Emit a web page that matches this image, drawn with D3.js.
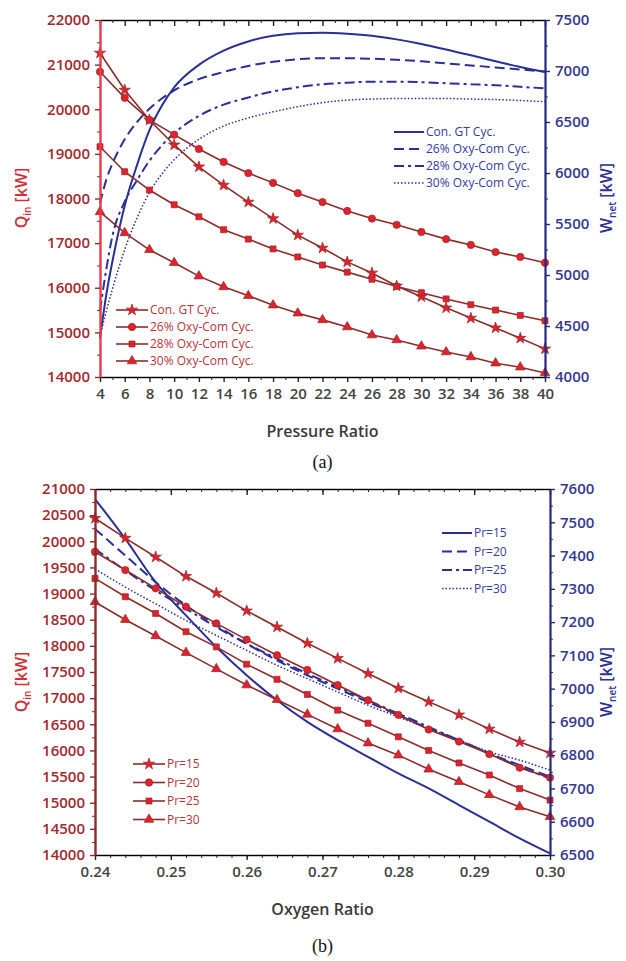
<!DOCTYPE html>
<html>
<head>
<meta charset="utf-8">
<script src="https://cdn.jsdelivr.net/npm/d3@7/dist/d3.min.js"></script>
<style>
  body { margin: 0; background: #fff; }
  svg text { font-family: "Open Sans", "DejaVu Sans", sans-serif; }
</style>
</head>
<body>
<svg id="chart" width="626" height="961"></svg>
<script>
// ---- panel (a): pressure ratio ----
var prRatio = [4, 6, 8, 10, 12, 14, 16, 18, 20, 22, 24, 26, 28, 30, 32, 34, 36, 38, 40];
var qinConGT = [21260, 20430, 19760, 19200, 18710, 18300, 17920, 17550, 17180, 16890, 16580, 16330, 16040, 15800, 15550, 15320, 15100, 14870, 14630];
var qinOxy26 = [20840, 20255, 19760, 19430, 19110, 18820, 18570, 18350, 18120, 17920, 17720, 17550, 17410, 17250, 17090, 16960, 16800, 16690, 16560];
var qinOxy28 = [19160, 18600, 18190, 17860, 17590, 17300, 17090, 16870, 16690, 16510, 16350, 16190, 16030, 15890, 15750, 15620, 15500, 15380, 15260];
var qinOxy30 = [17700, 17230, 16850, 16560, 16260, 16020, 15820, 15610, 15430, 15280, 15120, 14940, 14830, 14690, 14560, 14450, 14310, 14220, 14090];

var prFine = [4, 4.5, 5, 6, 7, 8, 9, 10, 12, 14, 16, 18, 20, 22, 24, 26, 28, 30, 32, 34, 36, 38, 40];
var wnetConGT = [4380, 4800, 5130, 5680, 6080, 6420, 6660, 6840, 7060, 7200, 7290, 7345, 7370, 7375, 7365, 7345, 7310, 7265, 7210, 7155, 7095, 7040, 6990];
var wnetOxy26 = [5700, 5930, 6090, 6330, 6500, 6630, 6730, 6810, 6920, 6990, 7050, 7090, 7115, 7125, 7125, 7120, 7110, 7095, 7075, 7055, 7035, 7015, 6995];
var wnetOxy28 = [4650, 5050, 5380, 5720, 5930, 6120, 6270, 6390, 6560, 6670, 6740, 6800, 6840, 6870, 6885, 6895, 6895, 6890, 6880, 6870, 6860, 6845, 6830];
var wnetOxy30 = [4400, 4640, 4860, 5250, 5560, 5810, 5990, 6130, 6330, 6460, 6540, 6600, 6650, 6690, 6715, 6725, 6730, 6730, 6730, 6725, 6720, 6710, 6700];
var legendA = ["Con. GT Cyc.", "26% Oxy-Com Cyc.", "28% Oxy-Com Cyc.", "30% Oxy-Com Cyc."];

// ---- panel (b): oxygen ratio ----
var oxyRatio = [0.240, 0.244, 0.248, 0.252, 0.256, 0.260, 0.264, 0.268, 0.272, 0.276, 0.280, 0.284, 0.288, 0.292, 0.296, 0.300];
var qinPr15 = [20440, 20060, 19700, 19330, 19010, 18670, 18360, 18050, 17760, 17470, 17190, 16930, 16680, 16410, 16160, 15950];
var qinPr20 = [19800, 19450, 19100, 18750, 18430, 18120, 17820, 17540, 17250, 16960, 16680, 16400, 16170, 15930, 15670, 15480];
var qinPr25 = [19290, 18940, 18620, 18270, 17980, 17650, 17360, 17070, 16770, 16520, 16260, 16000, 15760, 15530, 15270, 15050];
var qinPr30 = [18840, 18500, 18190, 17870, 17560, 17250, 16970, 16690, 16410, 16140, 15910, 15640, 15400, 15150, 14920, 14730];
var wnetPr15 = [7570, 7450, 7320, 7220, 7125, 7040, 6965, 6900, 6845, 6795, 6745, 6700, 6650, 6600, 6550, 6505];
var wnetPr20 = [7480, 7400, 7320, 7250, 7190, 7135, 7085, 7040, 7000, 6960, 6920, 6880, 6845, 6805, 6770, 6735];
var wnetPr25 = [7420, 7355, 7295, 7240, 7185, 7135, 7090, 7045, 7005, 6965, 6925, 6885, 6845, 6805, 6765, 6730];
var wnetPr30 = [7360, 7305, 7255, 7205, 7160, 7115, 7070, 7030, 6990, 6950, 6915, 6880, 6845, 6810, 6785, 6755];
var legendB = ["Pr=15", "Pr=20", "Pr=25", "Pr=30"];

var redLine = "#8c2b2b", redFill = "#e3202b", redText = "#b8323a";
var blue = "#2a2f98", blueText = "#353a9c";
var symbols = [d3.symbolStar, d3.symbolCircle, d3.symbolSquare, d3.symbolTriangle];
var symSizes = [40, 42, 36, 40];
var dashes = [null, "10,5", "10,4,3,4", "1.5,2"];
var widths = [2, 2, 2, 1.5];

var svg = d3.select("#chart");

function drawPanel(p) {
  var g = svg.append("g");
  var x = d3.scaleLinear().domain(p.xDomain).range([p.left, p.right]);
  var yL = d3.scaleLinear().domain(p.yLDomain).range([p.bottom, p.top]);
  var yR = d3.scaleLinear().domain(p.yRDomain).range([p.bottom, p.top]);

  // blue W_net curves
  p.wnet.forEach(function(series, i) {
    g.append("path")
      .datum(series)
      .attr("fill", "none")
      .attr("stroke", blue)
      .attr("stroke-width", widths[i])
      .attr("stroke-dasharray", dashes[i])
      .attr("d", d3.line().curve(d3.curveMonotoneX)
        .x(function(d, j) { return x(p.wx[j]); })
        .y(function(d) { return yR(d); }));
  });

  // red Q_in lines with markers
  p.qin.forEach(function(series, i) {
    g.append("path")
      .datum(series)
      .attr("fill", "none")
      .attr("stroke", redLine)
      .attr("stroke-width", 1.6)
      .attr("d", d3.line().x(function(d, j) { return x(p.qx[j]); }).y(function(d) { return yL(d); }));
    g.selectAll(null)
      .data(series)
      .enter().append("path")
      .attr("transform", function(d, j) { return "translate(" + x(p.qx[j]) + "," + yL(d) + ")"; })
      .attr("d", d3.symbol().type(symbols[i]).size(symSizes[i]))
      .attr("fill", redFill)
      .attr("stroke", redLine)
      .attr("stroke-width", 0.7);
  });

  // axes
  var bottom = g.append("g").attr("transform", "translate(0," + p.bottom + ")")
    .call(d3.axisBottom(x).tickValues(p.xTicks).tickSize(5).tickSizeOuter(0).tickPadding(6).tickFormat(p.xFmt));
  g.append("g").attr("transform", "translate(0," + p.bottom + ")")
    .call(d3.axisBottom(x).tickValues(p.xMinor).tickSize(3).tickSizeOuter(0).tickFormat(""));
  var top = g.append("g").attr("transform", "translate(0," + p.top + ")")
    .call(d3.axisBottom(x).tickValues(p.xTicks).tickSize(6).tickSizeOuter(0).tickFormat(""));
  g.append("g").attr("transform", "translate(0," + p.top + ")")
    .call(d3.axisBottom(x).tickValues(p.xMinor).tickSize(3).tickSizeOuter(0).tickFormat(""));
  [bottom, top].forEach(function(a) {
    a.select(".domain").attr("stroke", "#222").attr("stroke-width", 1.6);
    a.selectAll(".tick line").attr("stroke", "#222").attr("stroke-width", 1.4);
    a.selectAll("text").attr("fill", "#444").attr("font-size", 15).attr("font-weight", 600);
  });
  g.selectAll(".tick line").attr("stroke", "#222");

  var left = g.append("g").attr("transform", "translate(" + p.left + ",0)")
    .call(d3.axisLeft(yL).tickValues(p.yLTicks).tickSize(5).tickSizeOuter(0).tickPadding(5).tickFormat(d3.format("d")));
  g.append("g").attr("class", "lminor").attr("transform", "translate(" + p.left + ",0)")
    .call(d3.axisLeft(yL).tickValues(p.yLMinor).tickSize(3).tickSizeOuter(0).tickFormat(""));
  left.select(".domain").attr("stroke", p.leftAxisColor).attr("stroke-width", 2.4);
  left.selectAll(".tick line").attr("stroke", "#8c2b2b").attr("stroke-width", 1.4);
  left.selectAll("text").attr("fill", "#a3282e").attr("font-size", 15).attr("font-weight", 600);
  g.selectAll(".lminor .domain").remove();
  g.selectAll(".lminor .tick line").attr("stroke", "#8c2b2b");

  var right = g.append("g").attr("transform", "translate(" + p.right + ",0)")
    .call(d3.axisRight(yR).tickValues(p.yRTicks).tickSize(5).tickSizeOuter(0).tickPadding(5).tickFormat(d3.format("d")));
  g.append("g").attr("class", "rminor").attr("transform", "translate(" + p.right + ",0)")
    .call(d3.axisRight(yR).tickValues(p.yRMinor).tickSize(3).tickSizeOuter(0).tickFormat(""));
  right.select(".domain").attr("stroke", "#24287e").attr("stroke-width", 2.2);
  right.selectAll(".tick line").attr("stroke", "#24287e").attr("stroke-width", 1.4);
  right.selectAll("text").attr("fill", "#34388f").attr("font-size", 15).attr("font-weight", 600);
  g.selectAll(".rminor .domain").remove();
  g.selectAll(".rminor .tick line").attr("stroke", "#24287e");

  // axis titles
  g.append("text")
    .attr("x", (p.left + p.right) / 2).attr("y", p.xTitleY)
    .attr("text-anchor", "middle").attr("font-size", 16).attr("font-weight", 600).attr("fill", "#3a3a3a")
    .text(p.xTitle);
  g.append("text")
    .attr("x", (p.left + p.right) / 2).attr("y", p.captionY)
    .attr("text-anchor", "middle").attr("font-size", 18).attr("fill", "#111")
    .style("font-family", "'Liberation Serif', serif")
    .text(p.caption);

  var ql = g.append("text")
    .attr("transform", "translate(27," + p.yTitleY + ") rotate(-90)")
    .attr("text-anchor", "middle").attr("font-size", 16).attr("font-weight", 600).attr("fill", "#d12f35");
  ql.append("tspan").text("Q");
  ql.append("tspan").attr("font-size", 10).attr("dy", 4).text("in");
  ql.append("tspan").attr("dy", -4).text(" [kW]");

  var wl = g.append("text")
    .attr("transform", "translate(612," + p.yTitleY + ") rotate(-90)")
    .attr("text-anchor", "middle").attr("font-size", 16).attr("font-weight", 600).attr("fill", "#2c3094");
  wl.append("tspan").text("W");
  wl.append("tspan").attr("font-size", 10).attr("dy", 4).text("net");
  wl.append("tspan").attr("dy", -4).text(" [kW]");

  // blue legend
  p.legend.forEach(function(name, i) {
    var ly = p.blueLeg.y + i * p.legStep;
    g.append("line")
      .attr("x1", p.blueLeg.x).attr("x2", p.blueLeg.x + 30).attr("y1", ly).attr("y2", ly)
      .attr("stroke", blue).attr("stroke-width", widths[i]).attr("stroke-dasharray", dashes[i]);
    g.append("text").attr("x", p.blueLeg.x + 32).attr("y", ly + 4)
      .attr("font-size", 12).attr("fill", blueText).text(name);
  });
  // red legend
  p.legend.forEach(function(name, i) {
    var ly = p.redLeg.y + i * p.legStep;
    g.append("line")
      .attr("x1", p.redLeg.x).attr("x2", p.redLeg.x + 32).attr("y1", ly).attr("y2", ly)
      .attr("stroke", redLine).attr("stroke-width", 1.6);
    g.append("path")
      .attr("transform", "translate(" + (p.redLeg.x + 16) + "," + ly + ")")
      .attr("d", d3.symbol().type(symbols[i]).size(symSizes[i]))
      .attr("fill", redFill).attr("stroke", redLine).attr("stroke-width", 0.7);
    g.append("text").attr("x", p.redLeg.x + 34).attr("y", ly + 4)
      .attr("font-size", 12).attr("fill", redText).text(name);
  });
}

drawPanel({
  left: 100, right: 545, top: 20, bottom: 377,
  xDomain: [4, 40], yLDomain: [14000, 22000], yRDomain: [4000, 7500],
  xTicks: d3.range(4, 41, 2), xMinor: d3.range(5, 40, 2), xFmt: d3.format("d"),
  yLTicks: d3.range(14000, 22001, 1000), yLMinor: d3.range(14500, 22000, 1000),
  yRTicks: d3.range(4000, 7501, 500), yRMinor: d3.range(4250, 7500, 500),
  qx: prRatio, qin: [qinConGT, qinOxy26, qinOxy28, qinOxy30],
  wx: prFine, wnet: [wnetConGT, wnetOxy26, wnetOxy28, wnetOxy30],
  leftAxisColor: "#ea3a4c",
  xTitle: "Pressure Ratio", xTitleY: 437, caption: "(a)", captionY: 468, yTitleY: 198,
  legend: legendA, legStep: 17,
  blueLeg: {x: 394, y: 132}, redLeg: {x: 116, y: 310}
});

drawPanel({
  left: 95, right: 550, top: 489, bottom: 855,
  xDomain: [0.24, 0.30], yLDomain: [14000, 21000], yRDomain: [6500, 7600],
  xTicks: d3.range(0, 7).map(function(i) { return 0.24 + i * 0.01; }),
  xMinor: d3.range(0, 31).map(function(i) { return 0.24 + i * 0.002; }),
  xFmt: d3.format(".2f"),
  yLTicks: d3.range(14000, 21001, 500), yLMinor: d3.range(14250, 21000, 500),
  yRTicks: d3.range(6500, 7601, 100), yRMinor: d3.range(6550, 7600, 100),
  qx: oxyRatio, qin: [qinPr15, qinPr20, qinPr25, qinPr30],
  wx: oxyRatio, wnet: [wnetPr15, wnetPr20, wnetPr25, wnetPr30],
  leftAxisColor: "#8c2b2b",
  xTitle: "Oxygen Ratio", xTitleY: 915, caption: "(b)", captionY: 952, yTitleY: 682,
  legend: legendB, legStep: 18.5,
  blueLeg: {x: 442, y: 533}, redLeg: {x: 133, y: 764}
});
</script>
</body>
</html>
